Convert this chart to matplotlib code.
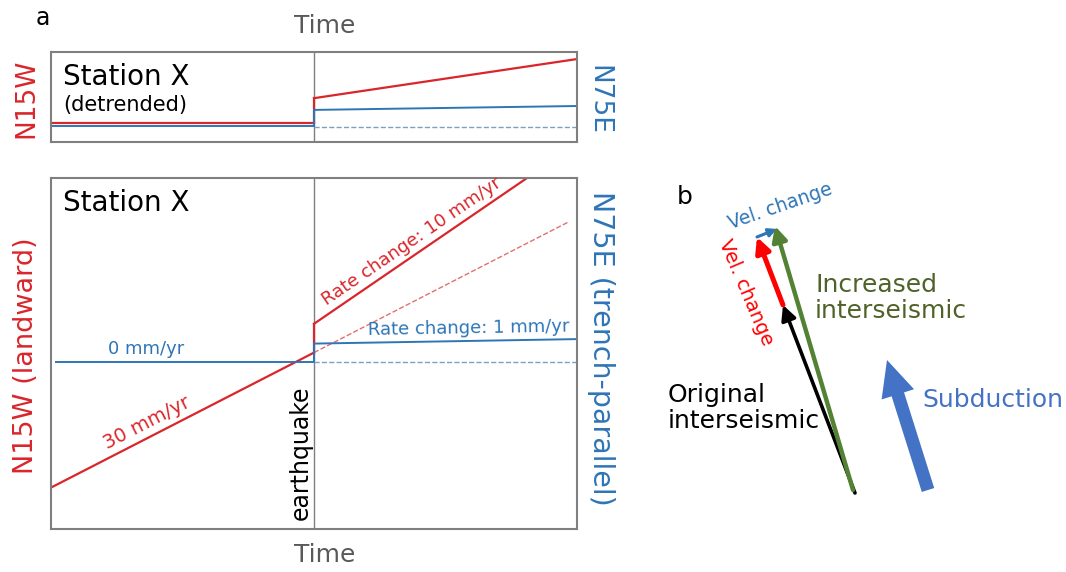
import numpy as np
import matplotlib
matplotlib.use("Agg")
import matplotlib.pyplot as plt
from matplotlib.patches import FancyArrow

plt.rcParams['font.family'] = ['DejaVu Sans']

# --- tidsserie-skisse (panel a) ---
t_start, t_eq, t_end = 0.0, 5.0, 10.0      # år
n_rate_pre = 30.0        # mm/yr, N15W (landward)
n_rate_change = 10.0     # mm/yr etter skjelvet
e_rate_pre = 0.0         # mm/yr, N75E (trench-parallel)
e_rate_change = 1.0      # mm/yr etter skjelvet
n_offset = 32.0          # koseismisk sprang, mm
e_offset = 20.0
n_at_eq = 10.0           # posisjon ved skjelvet (ikke detrendet)
n_at_eq_detr = 3.0       # posisjon ved skjelvet (detrendet)

# --- hastighetsvektorer (panel b) ---
vec_origin = (195.0, 17.0)
orig_interseismic = (-72.0, 188.0)
vel_change_n = (-26.0, 68.0)
vel_change_e = (20.0, 8.0)
subd_tail = (268.0, 20.0)
subduction = (-41.0, 130.0)

RED = '#d9262b'
BLUE = '#2e75b6'
LTBLUE = '#7f9fc0'
LTRED = '#e07070'
GREEN = '#548235'
DKGREEN = '#4f6228'
SUBBLUE = '#4472c4'
GRAY = '#7f7f7f'

fig = plt.figure(figsize=(10.66, 5.72), dpi=100)

def ramme(ax):
    ax.set_xticks([])
    ax.set_yticks([])
    for s in ax.spines.values():
        s.set_color(GRAY)
        s.set_linewidth(1.5)
    ax.set_xlim(t_start, t_end)
    ax.axvline(t_eq, color=GRAY, lw=1)

t_pre = np.array([t_start, t_eq])
t_post = np.array([t_eq, t_end])

# ---------- øvre panel: detrendet ----------
ax1 = fig.add_axes([51 / 1066, 1 - 142 / 572, 526 / 1066, 90 / 572])
ramme(ax1)
ax1.set_ylim(-21, 94)
ax1.plot(t_pre, [n_at_eq_detr, n_at_eq_detr], color=RED, lw=1.6)
ax1.plot(t_post, n_at_eq_detr + n_offset + n_rate_change * (t_post - t_eq), color=RED, lw=1.6)
ax1.plot([t_eq, t_eq], [n_at_eq_detr, n_at_eq_detr + n_offset], color=RED, lw=1.6)
ax1.plot(t_pre, [0, 0], color=BLUE, lw=1.4)
ax1.plot(t_post, e_offset + e_rate_change * (t_post - t_eq), color=BLUE, lw=1.4)
ax1.plot([t_eq, t_eq], [0, e_offset], color=BLUE, lw=1.4)
ax1.plot(t_post, [-2, -2], color=LTBLUE, lw=1.0, ls='--')
ax1.text(0.023, 0.72, 'Station X', transform=ax1.transAxes, fontsize=20, va='center')
ax1.text(0.023, 0.41, '(detrended)', transform=ax1.transAxes, fontsize=15, va='center')

# ---------- nedre panel ----------
ax2 = fig.add_axes([51 / 1066, 1 - 529 / 572, 526 / 1066, 351 / 572])
ramme(ax2)
ax2.set_ylim(-186, 204)

n_pre = n_at_eq + n_rate_pre * (t_pre - t_eq)
n_post = n_at_eq + n_offset + (n_rate_pre + n_rate_change) * (t_post - t_eq)
t_dash = np.array([t_eq, 9.83])
n_dash = n_at_eq + n_rate_pre * (t_dash - t_eq)
ax2.plot(t_pre, n_pre, color=RED, lw=1.6)
ax2.plot([t_eq, t_eq], [n_at_eq, n_at_eq + n_offset], color=RED, lw=1.6)
ax2.plot(t_post, n_post, color=RED, lw=1.6)
ax2.plot(t_dash, n_dash, color=LTRED, lw=1.0, ls='--')

e_pre = e_rate_pre * (t_pre - t_eq)
e_post = e_offset + (e_rate_pre + e_rate_change) * (t_post - t_eq)
ax2.plot([0.09, t_eq], e_pre, color=BLUE, lw=1.4)
ax2.plot([t_eq, t_eq], [0, e_offset], color=BLUE, lw=1.4)
ax2.plot(t_post, e_post, color=BLUE, lw=1.4)
ax2.plot(t_post, [0, 0], color=LTBLUE, lw=1.0, ls='--')

ax2.text(0.023, 0.929, 'Station X', transform=ax2.transAxes, fontsize=20, va='center')
ax2.text(1.8, 4, f'{e_rate_pre:.0f} mm/yr', color=BLUE, fontsize=13, ha='center', va='bottom')

def langs(ax, t, y0, rate, txt, color, dy, fs=13):
    y = y0 + rate * (t - t_eq)
    ax.text(t, y + dy, txt, color=color, fontsize=fs, ha='center', va='bottom',
            rotation=np.degrees(np.arctan(rate)), rotation_mode='anchor',
            transform_rotates_text=True)

langs(ax2, 1.9, n_at_eq, n_rate_pre, f'{n_rate_pre:.0f} mm/yr', RED, 5, 14)
langs(ax2, 6.95, n_at_eq + n_offset, n_rate_pre + n_rate_change,
      f'Rate change: {n_rate_change:.0f} mm/yr', RED, 5)
langs(ax2, 7.95, e_offset, e_rate_pre + e_rate_change,
      f'Rate change: {e_rate_change:.0f} mm/yr', BLUE, 4)
ax2.text(4.88, -27, 'earthquake', fontsize=17, rotation=90, rotation_mode='anchor',
         ha='right', va='baseline')

# aksetekster
fig.text(0.040, 0.968, 'a', fontsize=17, ha='center', va='center')
fig.text(0.305, 0.955, 'Time', fontsize=18, color='#595959', ha='center', va='center')
fig.text(0.305, 0.029, 'Time', fontsize=18, color='#595959', ha='center', va='center')
fig.text(26 / 1066, 1 - 98 / 572, 'N15W', color=RED, fontsize=19, rotation=90,
         ha='center', va='center')
fig.text(598 / 1066, 1 - 100 / 572, 'N75E', color=BLUE, fontsize=19, rotation=-90,
         ha='center', va='center')
fig.text(26 / 1066, 1 - 356 / 572, 'N15W (landward)', color=RED, fontsize=19.5, rotation=90,
         ha='center', va='center')
fig.text(601 / 1066, 1 - 348 / 572, 'N75E (trench-parallel)', color=BLUE, fontsize=20.5,
         rotation=-90, ha='center', va='center')

# ---------- panel b ----------
axb = fig.add_axes([660 / 1066, 1 - 510 / 572, 406 / 1066, 340 / 572])
axb.set_xlim(0, 406)
axb.set_ylim(0, 340)
axb.axis('off')

def pil(ax, tail, vec, color, lw, ms):
    tip = (tail[0] + vec[0], tail[1] + vec[1])
    ax.annotate('', xy=tip, xytext=tail,
                arrowprops=dict(arrowstyle='-|>', color=color, lw=lw, mutation_scale=ms,
                                shrinkA=0, shrinkB=0))
    return tip

black_tip = pil(axb, vec_origin, orig_interseismic, 'black', 2.6, 22)
red_tip = pil(axb, black_tip, vel_change_n, '#ff0000', 3.6, 22)
pil(axb, red_tip, vel_change_e, BLUE, 2.2, 12)
tot = tuple(orig_interseismic[i] + vel_change_n[i] + vel_change_e[i] for i in range(2))
pil(axb, (vec_origin[0] - 2, vec_origin[1] + 3), tot, GREEN, 3.2, 22)

axb.add_patch(FancyArrow(subd_tail[0], subd_tail[1], subduction[0], subduction[1],
                         width=13, head_width=34, head_length=36,
                         length_includes_head=True, color=SUBBLUE, lw=0))

axb.text(25, 313, 'b', fontsize=18, ha='center', va='center')
axb.text(120, 304, 'Vel. change', color=BLUE, fontsize=13.5, rotation=19,
         ha='center', va='center')
axb.text(86, 218, 'Vel. change', color='#ff0000', fontsize=14, rotation=-67,
         ha='center', va='center')
axb.text(155, 212, 'Increased\ninterseismic', color=DKGREEN, fontsize=18,
         ha='left', va='center', linespacing=1.15)
axb.text(8, 102, 'Original\ninterseismic', color='black', fontsize=18,
         ha='left', va='center', linespacing=1.15)
axb.text(262, 110, 'Subduction', color=SUBBLUE, fontsize=18, ha='left', va='center')

fig.savefig('out.png', dpi=100)
